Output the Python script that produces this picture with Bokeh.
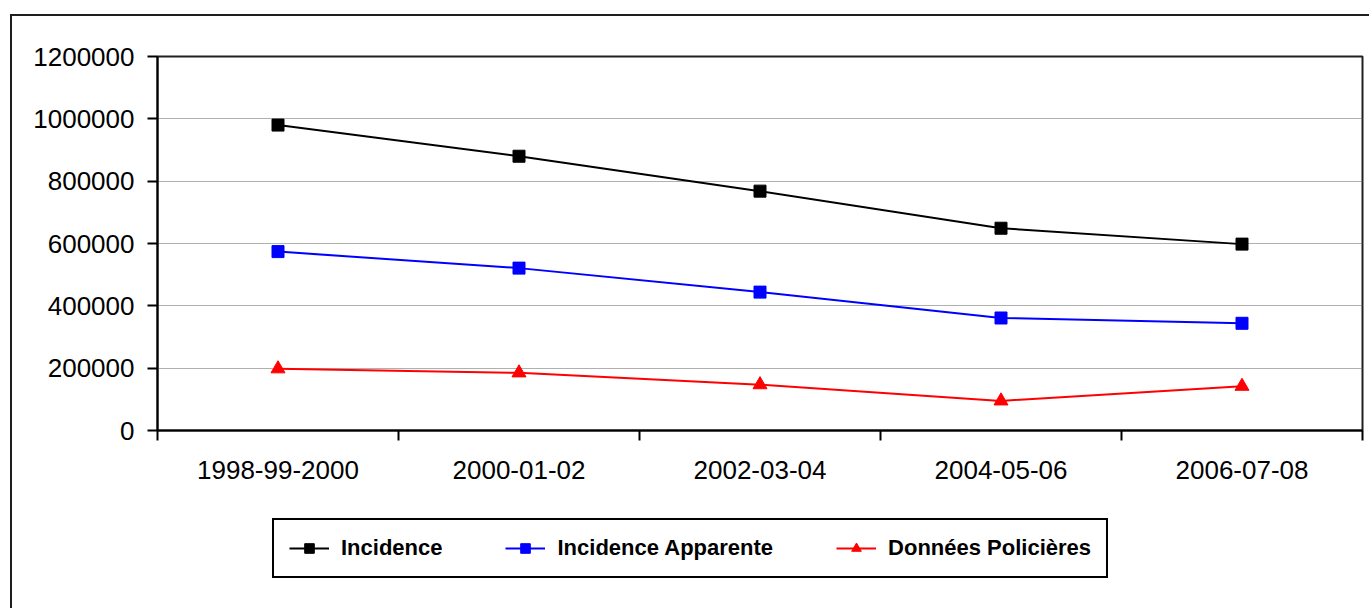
from bokeh.plotting import figure
from bokeh.layouts import column
from bokeh.models import (FactorRange, Range1d, LinearAxis, FixedTicker,
                          BasicTickFormatter, Legend, LegendItem, InlineStyleSheet)
from bokeh.embed import file_html
from bokeh.resources import INLINE

categories = ["1998-99-2000", "2000-01-02", "2002-03-04", "2004-05-06", "2006-07-08"]
incidence = [980000, 880000, 768000, 649000, 598000]
incidence_apparente = [574000, 521000, 444000, 361000, 344000]
donnees_policieres = [198000, 185000, 147000, 95000, 142000]
series_names = ["Incidence", "Incidence Apparente", "Données Policières"]
y_ticks = [0, 200000, 400000, 600000, 800000, 1000000, 1200000]

FONT = "Liberation Sans"

p = figure(width=1369, height=500, output_backend="svg", toolbar_location=None,
           x_range=FactorRange(factors=categories, range_padding=0),
           y_range=Range1d(0, 1200000),
           x_axis_location=None, y_axis_location="left",
           min_border_left=157, min_border_top=56, min_border_right=7,
           min_border_bottom=70, background_fill_color="white",
           border_fill_color=None)
p.outline_line_color = "#202020"
p.outline_line_width = 2

# y axis
ya = p.yaxis[0]
ya.ticker = FixedTicker(ticks=y_ticks, minor_ticks=[])
ya.formatter = BasicTickFormatter(use_scientific=False)
ya.axis_line_color = "black"
ya.axis_line_width = 2
ya.major_tick_line_color = "black"
ya.major_tick_line_width = 2
ya.major_tick_out = 10
ya.major_tick_in = 0
ya.minor_tick_line_color = None
ya.major_label_text_font = FONT
ya.major_label_text_font_size = "26px"
ya.major_label_text_color = "black"
ya.major_label_standoff = 13

p.ygrid.ticker = FixedTicker(ticks=y_ticks)
p.ygrid.grid_line_color = "#606060"
p.ygrid.grid_line_dash = "1 1"
p.ygrid.grid_line_width = 1
p.xgrid.grid_line_color = None

# x axis: labels at category centres (synthetic coords), ticks at category boundaries
n = len(categories)
centers = [i + 0.5 for i in range(n)]
bounds = list(range(n + 1))
xa = LinearAxis(ticker=FixedTicker(ticks=centers, minor_ticks=bounds),
                major_label_overrides={c: lab for c, lab in zip(centers, categories)})
xa.axis_line_color = "black"
xa.axis_line_width = 2
xa.major_tick_line_color = None
xa.major_tick_out = 0
xa.major_tick_in = 0
xa.minor_tick_line_color = "black"
xa.minor_tick_line_width = 2
xa.minor_tick_out = 10
xa.minor_tick_in = 0
xa.major_label_text_font = FONT
xa.major_label_text_font_size = "26px"
xa.major_label_text_color = "black"
xa.major_label_standoff = 20
p.add_layout(xa, "below")

colors = ["black", "#0000FF", "#FF0000"]
markers = ["square", "square", "triangle"]
sizes = [12, 12, 14]
data = [incidence, incidence_apparente, donnees_policieres]
for vals, c, m, s in zip(data, colors, markers, sizes):
    p.line(categories, vals, line_color=c, line_width=2)
    p.scatter(categories, vals, marker=m, size=s, fill_color=c, line_color=c)

# legend strip below the chart (its renderers fall outside its empty frame)
lg = figure(width=1369, height=108, output_backend="svg", toolbar_location=None,
            x_range=FactorRange(factors=categories, range_padding=0),
            y_range=Range1d(-2, -1), x_axis_location=None, y_axis_location=None,
            min_border=0, background_fill_color=None, border_fill_color=None)
lg.outline_line_color = None
lg.grid.visible = False
items = []
for name, vals, c, m in zip(series_names, data, colors, markers):
    r1 = lg.line(categories, vals, line_color=c, line_width=2)
    r2 = lg.scatter(categories, vals, marker=m, size=12, fill_color=c, line_color=c)
    items.append(LegendItem(label=name, renderers=[r1, r2]))

legend = Legend(items=items, orientation="horizontal", location=(115, 30))
legend.label_text_font = FONT
legend.label_text_font_style = "bold"
legend.label_text_font_size = "22px"
legend.label_text_color = "black"
legend.glyph_width = 40
legend.glyph_height = 24
legend.label_height = 24
legend.label_standoff = 12
legend.spacing = 63
legend.padding = 15
legend.margin = 0
legend.border_line_color = "black"
legend.border_line_alpha = 1
legend.border_line_width = 2
legend.background_fill_color = "white"
legend.background_fill_alpha = 1
lg.add_layout(legend, "center")

page = column(p, lg, spacing=0)
# outer chart-area border (left and top edges, the rest runs off the page)
page.stylesheets = [InlineStyleSheet(css=(
    ":host { position: relative; }"
    ":host::after { content: ''; position: absolute; left: 10px; top: 14px; "
    "width: calc(100% - 10px); height: calc(100% - 14px); box-sizing: border-box; "
    "border-left: 2px solid #1e1e1e; border-top: 2px solid #1e1e1e; "
    "pointer-events: none; }"))]

open("out.html", "w").write(file_html(page, INLINE))
